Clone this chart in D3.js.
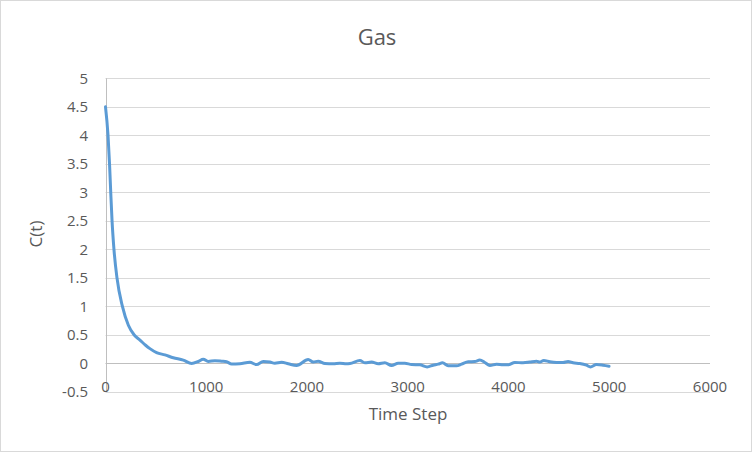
<!DOCTYPE html>
<html lang="en">
<head>
    <meta charset="UTF-8">
    <title>Gas</title>
    <script src="https://d3js.org/d3.v7.min.js"></script>
    <style>
        html, body { margin: 0; padding: 0; background: #fff; }
        svg { display: block; font-family: "Open Sans", "Noto Sans", sans-serif; }
    </style>
</head>
<body>
    <svg id="chart" width="752" height="452"></svg>
    <script>
        // values
        const timeSteps = [0, 25, 40, 52, 65, 84, 114, 168, 227, 285, 342, 398, 441, 507, 590, 673, 772, 855,
            921, 970, 1020, 1086, 1153, 1202, 1252, 1334, 1433, 1500, 1566, 1632, 1681, 1748, 1814, 1897,
            2012, 2062, 2111, 2178, 2260, 2326, 2392, 2426, 2525, 2574, 2641, 2707, 2773, 2839, 2905, 2971,
            3038, 3120, 3193, 3252, 3302, 3345, 3401, 3484, 3534, 3600, 3666, 3715, 3765, 3815, 3881, 3947,
            3996, 4063, 4145, 4211, 4278, 4311, 4350, 4410, 4476, 4542, 4591, 4641, 4707, 4774, 4813, 4873,
            4939, 4998];
        const corr = [4.5, 4.0, 3.5, 3.0, 2.5, 2.0, 1.5, 1.0, 0.67, 0.5, 0.41, 0.32, 0.26, 0.19, 0.15, 0.10, 0.06, 0.0,
            0.035, 0.075, 0.035, 0.05, 0.04, 0.03, -0.01, -0.005, 0.02, -0.02, 0.035, 0.025, 0.005, 0.02, -0.005, -0.035,
            0.07, 0.025, 0.04, 0.0, -0.005, 0.005, -0.005, 0.0, 0.053, 0.012, 0.024, -0.006, 0.012, -0.035, 0.006, 0.006,
            -0.018, -0.024, -0.06, -0.03, -0.012, 0.012, -0.04, -0.04, -0.012, 0.03, 0.035, 0.06, 0.018, -0.035, -0.012, -0.024,
            -0.024, 0.018, 0.012, 0.024, 0.04, 0.024, 0.053, 0.03, 0.018, 0.018, 0.035, 0.012, 0.0, -0.03, -0.06, -0.018,
            -0.03, -0.047];
        const xTicks = [0, 1000, 2000, 3000, 4000, 5000, 6000];
        const yTicks = [-0.5, 0, 0.5, 1, 1.5, 2, 2.5, 3, 3.5, 4, 4.5, 5];

        const svg = d3.select('#chart');
        const textColor = '#595959';

        // outer chart border
        svg.append('rect')
            .attr('x', 0.5).attr('y', 0.5)
            .attr('width', 751).attr('height', 451)
            .attr('fill', '#fff')
            .attr('stroke', '#d9d9d9');

        const x = d3.scaleLinear().domain([0, 6000]).range([105.5, 710]);
        const y = d3.scaleLinear().domain([-0.5, 5]).range([392, 78.3]);

        // horizontal gridlines
        svg.append('g')
            .selectAll('line')
            .data(yTicks)
            .join('line')
            .attr('x1', x(0)).attr('x2', x(6000))
            .attr('y1', d => Math.round(y(d)) + 0.5)
            .attr('y2', d => Math.round(y(d)) + 0.5)
            .attr('stroke', d => d === 0 ? '#bfbfbf' : '#d9d9d9')
            .attr('stroke-width', 1);

        // vertical axis line
        svg.append('line')
            .attr('x1', Math.round(x(0)) + 0.5).attr('x2', Math.round(x(0)) + 0.5)
            .attr('y1', y(5)).attr('y2', y(-0.5))
            .attr('stroke', '#bfbfbf');

        // y tick labels
        svg.append('g')
            .selectAll('text')
            .data(yTicks)
            .join('text')
            .attr('x', 88)
            .attr('y', d => y(d))
            .attr('dy', '0.35em')
            .attr('text-anchor', 'end')
            .attr('font-size', 15)
            .attr('fill', textColor)
            .text(d => d);

        // x tick labels
        svg.append('g')
            .selectAll('text')
            .data(xTicks)
            .join('text')
            .attr('x', d => x(d))
            .attr('y', 387)
            .attr('dy', '0.35em')
            .attr('text-anchor', 'middle')
            .attr('font-size', 15)
            .attr('fill', textColor)
            .text(d => d);

        // series
        const line = d3.line()
            .x((d, i) => x(timeSteps[i]))
            .y(d => y(d))
            .curve(d3.curveMonotoneX);

        svg.append('path')
            .datum(corr)
            .attr('d', line)
            .attr('fill', 'none')
            .attr('stroke', '#5b9bd5')
            .attr('stroke-width', 3)
            .attr('stroke-linejoin', 'round')
            .attr('stroke-linecap', 'round');

        // titles
        svg.append('text')
            .attr('x', 377).attr('y', 45)
            .attr('text-anchor', 'middle')
            .attr('font-size', 22)
            .attr('fill', textColor)
            .text('Gas');

        svg.append('text')
            .attr('x', 408).attr('y', 420)
            .attr('text-anchor', 'middle')
            .attr('font-size', 17)
            .attr('fill', textColor)
            .text('Time Step');

        svg.append('text')
            .attr('transform', 'translate(42,234) rotate(-90)')
            .attr('text-anchor', 'middle')
            .attr('font-size', 17)
            .attr('fill', textColor)
            .text('C(t)');
    </script>
</body>
</html>
